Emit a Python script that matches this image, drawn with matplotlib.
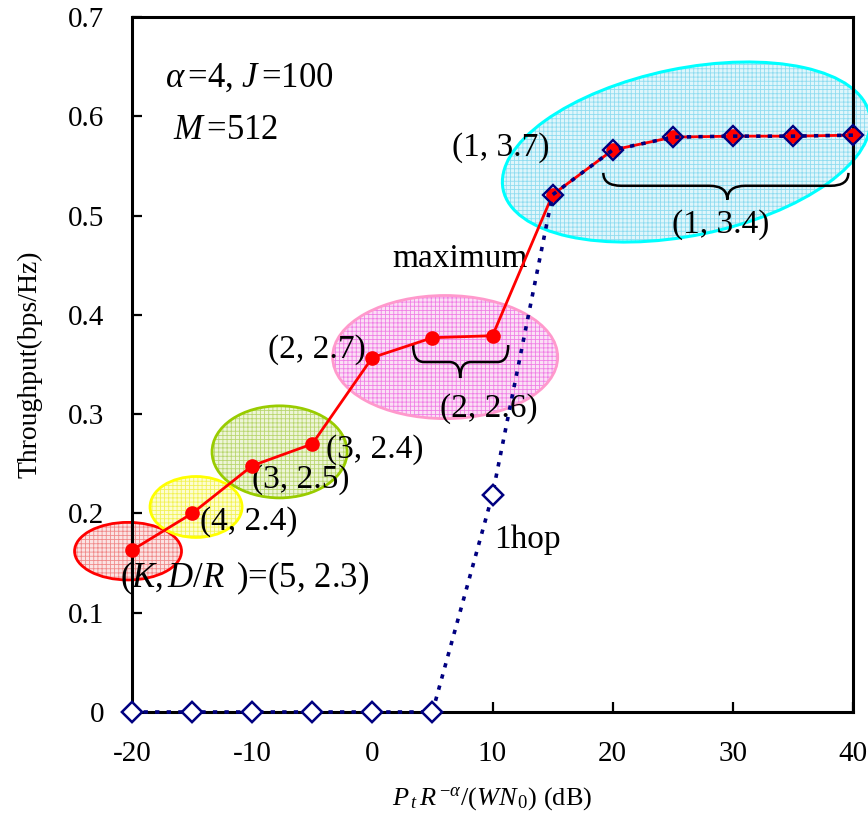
import numpy as np
import matplotlib
matplotlib.use("Agg")
import matplotlib.pyplot as plt
from matplotlib.patches import Ellipse, PathPatch
from matplotlib.path import Path
import matplotlib.transforms as mtransforms

plt.rcParams['font.family'] = ['Liberation Serif', 'DejaVu Serif']
plt.rcParams['mathtext.fontset'] = 'custom'
plt.rcParams['mathtext.rm'] = 'Liberation Serif'
plt.rcParams['mathtext.it'] = 'Liberation Serif:italic'
plt.rcParams['mathtext.bf'] = 'Liberation Serif:bold'
plt.rcParams['axes.unicode_minus'] = False
plt.rcParams['hatch.linewidth'] = 0.6

# ---- data ----
snr_db = [-20, -15, -10, -5, 0, 5, 10, 15, 20, 25, 30, 35, 40]
multihop = [0.163, 0.200, 0.248, 0.270, 0.357, 0.377, 0.379, 0.521, 0.566, 0.579, 0.580, 0.580, 0.581]
onehop = [0.0, 0.0, 0.0, 0.0, 0.0, 0.0, 0.219, 0.521, 0.566, 0.579, 0.580, 0.580, 0.581]
x_ticks = [-20, -10, 0, 10, 20, 30, 40]
y_ticks = [0, 0.1, 0.2, 0.3, 0.4, 0.5, 0.6, 0.7]
y_tick_labels = ['0', '0.1', '0.2', '0.3', '0.4', '0.5', '0.6', '0.7']

fig = plt.figure(figsize=(8.68, 8.21), dpi=100)
ax = fig.add_axes([132/868, 109/821, (853-132)/868, (712-17)/821])
ax.set_xlim(-20, 40)
ax.set_ylim(0, 0.7)

# ---- highlight ellipses (axis-aligned, data coords) ----
ells = [
    # cx, cy, w, h, edge, face, hatch color
    (-20.33, 0.162, 8.9, 0.058, '#ff0000', '#fbe3e3', '#f08a8a'),
    (-14.67, 0.2065, 7.66, 0.0614, '#ffff00', '#fdfdd0', '#f2f255'),
    (-7.72, 0.262, 11.24, 0.0927, '#99cc00', '#eef5d8', '#b9d670'),
    (6.06, 0.3575, 18.73, 0.124, '#ff99cc', '#fbe0f5', '#f080e6'),
]
for cx, cy, w, h, ec, fc, hc in ells:
    e1 = Ellipse((cx, cy), w, h, facecolor=fc, edgecolor=hc, hatch='++++',
                 linewidth=0, zorder=1, clip_on=False)
    ax.add_patch(e1)
    e2 = Ellipse((cx, cy), w, h, facecolor='none', edgecolor=ec,
                 linewidth=2, zorder=1.1, clip_on=False)
    ax.add_patch(e2)

# tilted cyan ellipse, defined in pixels around a data-centre
tr = mtransforms.IdentityTransform() + mtransforms.ScaledTranslation(26.13, 0.564, ax.transData)
c1 = Ellipse((0, 0), 374, 167, angle=11.6, facecolor='#e0f6fb', edgecolor='#8fdcf0',
             hatch='++++', linewidth=0, transform=tr, zorder=1, clip_on=False)
c2 = Ellipse((0, 0), 374, 167, angle=11.6, facecolor='none', edgecolor='#00ffff',
             linewidth=2.2, transform=tr, zorder=1.1, clip_on=False)
ax.add_patch(c1)
ax.add_patch(c2)

# ---- curves ----
ax.plot(snr_db, multihop, color='#ff0000', lw=2, marker='o', ms=9.5,
        markerfacecolor='#ff0000', markeredgecolor='#ff0000', zorder=3, clip_on=False)
ax.plot(snr_db, onehop, color='#000080', lw=2.6, linestyle=(0, (1.2, 2.0)),
        marker='D', ms=10, markerfacecolor='none', markeredgecolor='#000080',
        markeredgewidth=1.7, zorder=4, clip_on=False)
ax.plot([s for s, v in zip(snr_db, onehop) if v < 0.3],
        [v for v in onehop if v < 0.3], linestyle='none', marker='D', ms=10,
        markerfacecolor='white', markeredgecolor='#000080', markeredgewidth=1.7,
        zorder=4.1, clip_on=False)

# ---- braces ----
def brace(x0, x1, xm, ytop, yline, ytip, r):
    verts = [(x0, ytop), (x0, yline), (x0 + r, yline),
             (xm - r, yline),
             (xm, yline), (xm, ytip),
             (xm, yline), (xm + r, yline),
             (x1 - r, yline),
             (x1, yline), (x1, ytop)]
    codes = [Path.MOVETO, Path.CURVE3, Path.CURVE3,
             Path.LINETO,
             Path.CURVE3, Path.CURVE3,
             Path.CURVE3, Path.CURVE3,
             Path.LINETO,
             Path.CURVE3, Path.CURVE3]
    ax.add_patch(PathPatch(Path(verts, codes), facecolor='none', edgecolor='black',
                           lw=1.8, zorder=2.6, clip_on=False))

brace(19.22, 39.62, 29.54, 0.543, 0.530, 0.516, 1.5)
brace(3.40, 11.31, 7.31, 0.3696, 0.3525, 0.3364, 0.9)

# ---- texts ----
fs = 24
ax.text(-17.25, 0.6385, r'$\alpha\,$=4, $J\,$=100', fontsize=25, va='center', ha='left')
ax.text(-16.59, 0.586, r'$M\,$=512', fontsize=25, va='center', ha='left')
ax.text(6.64, 0.568, '(1, 3.7)', fontsize=fs, va='center', ha='left', zorder=5)
ax.text(24.96, 0.4905, '(1, 3.4)', fontsize=fs, va='center', ha='left', zorder=5)
ax.text(1.65, 0.457, 'maximum', fontsize=fs, va='center', ha='left', zorder=2)
ax.text(-8.68, 0.3646, '(2, 2.7)', fontsize=fs, va='center', ha='left', zorder=2)
ax.text(5.65, 0.306, '(2, 2.6)', fontsize=fs, va='center', ha='left', zorder=2)
ax.text(-3.85, 0.264, '(3, 2.4)', fontsize=fs, va='center', ha='left', zorder=2)
ax.text(-10.01, 0.2337, '(3, 2.5)', fontsize=fs, va='center', ha='left', zorder=2)
ax.text(-14.34, 0.1914, '(4, 2.4)', fontsize=fs, va='center', ha='left', zorder=2)
ax.text(-21.0, 0.135, r'$(K{,}\,D/R\ \,)$=(5, 2.3)', fontsize=25, va='center', ha='left', zorder=2)
ax.text(10.14, 0.173, '1hop', fontsize=fs, va='center', ha='left', zorder=2)

# ---- axes styling ----
ax.set_xticks(x_ticks)
ax.set_xticklabels([str(t) for t in x_ticks])
ax.set_yticks(y_ticks)
ax.set_yticklabels(y_tick_labels)
ax.tick_params(direction='in', length=7, width=1.6, labelsize=21)
ax.tick_params(axis='y', pad=20)
ax.tick_params(axis='x', pad=21)
for sp in ax.spines.values():
    sp.set_linewidth(2.2)
    sp.set_zorder(2.5)

ax.set_ylabel('Throughput(bps/Hz)', fontsize=20, labelpad=18)
ax.set_xlabel(r'$P_{\,t}\,R^{\,\mathrm{-}\alpha}/(WN_{\,0})$ (dB)', fontsize=19, labelpad=13)

fig.savefig('out.png', dpi=100)
